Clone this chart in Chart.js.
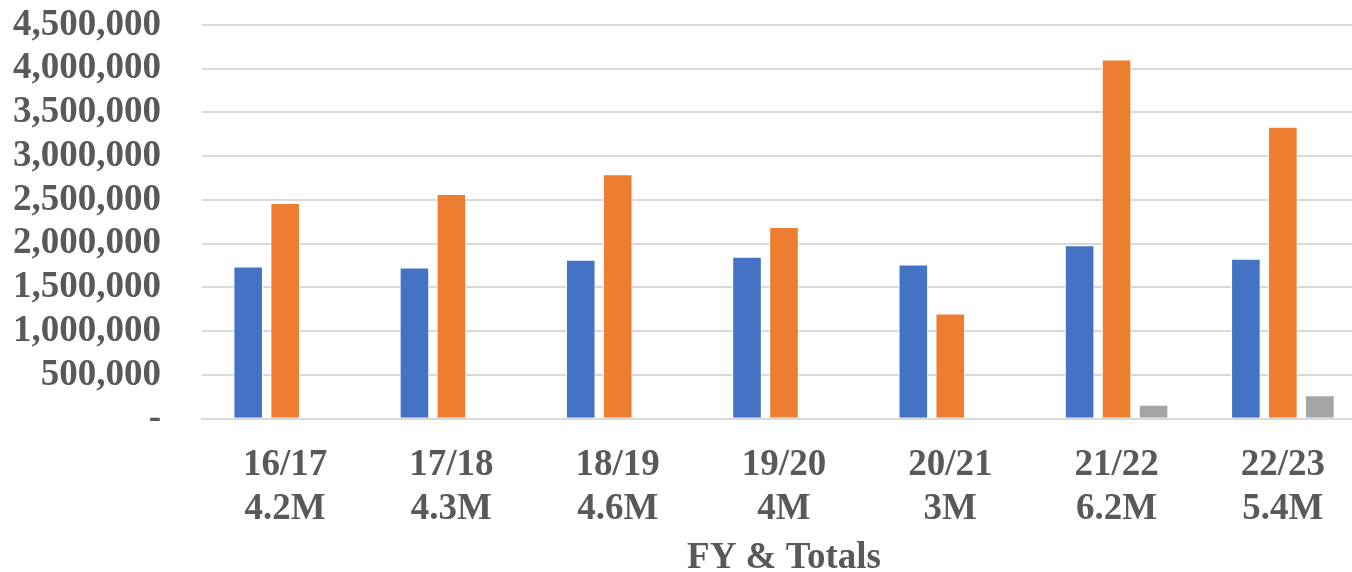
<!DOCTYPE html>
<html lang="en">
<head>
    <meta charset="UTF-8">
    <title>FY & Totals</title>
    <script src="https://cdn.jsdelivr.net/npm/chart.js"></script>
    <style>
        html, body {
            margin: 0;
            padding: 0;
            background: #ffffff;
            overflow: hidden;
        }
        .chart-container {
            width: 1366px;
            height: 572px;
            position: relative;
        }
    </style>
</head>
<body>
    <div class="chart-container">
        <canvas id="fyChart"></canvas>
    </div>

    <script>
        const years = ['16/17', '17/18', '18/19', '19/20', '20/21', '21/22', '22/23'];
        const totals = ['4.2M', '4.3M', '4.6M', '4M', '3M', '6.2M', '5.4M'];
        const seriesBlue = [1740000, 1729000, 1817000, 1851000, 1763000, 1981000, 1829000];
        const seriesOrange = [2465000, 2568000, 2794000, 2191000, 1202000, 4107000, 3336000];
        const seriesGray = [null, null, null, null, null, 160000, 267000];

        const textColor = '#595959';
        const gridColor = '#d9d9d9';
        const font = { family: '"Liberation Serif", "Times New Roman", serif', size: 37, weight: 'bold' };

        const ctx = document.getElementById('fyChart').getContext('2d');
        new Chart(ctx, {
            type: 'bar',
            data: {
                labels: years.map((y, i) => [y, totals[i]]),
                datasets: [
                    { data: seriesBlue, backgroundColor: '#4472C4', borderColor: '#ffffff', borderWidth: 1 },
                    { data: seriesOrange, backgroundColor: '#ED7D31', borderColor: '#ffffff', borderWidth: 1 },
                    { data: seriesGray, backgroundColor: '#A5A5A5', borderColor: '#ffffff', borderWidth: 1 }
                ]
            },
            options: {
                responsive: true,
                maintainAspectRatio: false,
                animation: false,
                categoryPercentage: 0.667,
                barPercentage: 0.8,
                // the plot runs past the right edge of the window, like the original
                layout: { padding: { left: 11, top: 25, right: 0, bottom: -5 } },
                plugins: {
                    legend: { display: false },
                    tooltip: { enabled: false }
                },
                scales: {
                    x: {
                        grid: { display: false },
                        border: { display: true, color: gridColor, width: 2 },
                        ticks: { color: textColor, font: { ...font, lineHeight: 1.18 }, padding: 17, maxRotation: 0, autoSkip: false },
                        title: {
                            display: true,
                            text: 'FY & Totals',
                            color: textColor,
                            font: { ...font, lineHeight: 1 },
                            padding: { top: -8, bottom: 0 }
                        }
                    },
                    y: {
                        min: 0,
                        max: 4500000,
                        // invisible tick marks give the gap between labels and plot
                        grid: { color: gridColor, lineWidth: 2, drawTicks: true, tickLength: 39, tickColor: 'rgba(0,0,0,0)' },
                        border: { display: false },
                        ticks: {
                            stepSize: 500000,
                            autoSkip: false,
                            color: textColor,
                            font: { ...font, lineHeight: 1.1 },
                            padding: 2,
                            callback: v => v === 0 ? '-' : v.toLocaleString('en-US')
                        }
                    }
                }
            }
        });
    </script>
</body>
</html>
